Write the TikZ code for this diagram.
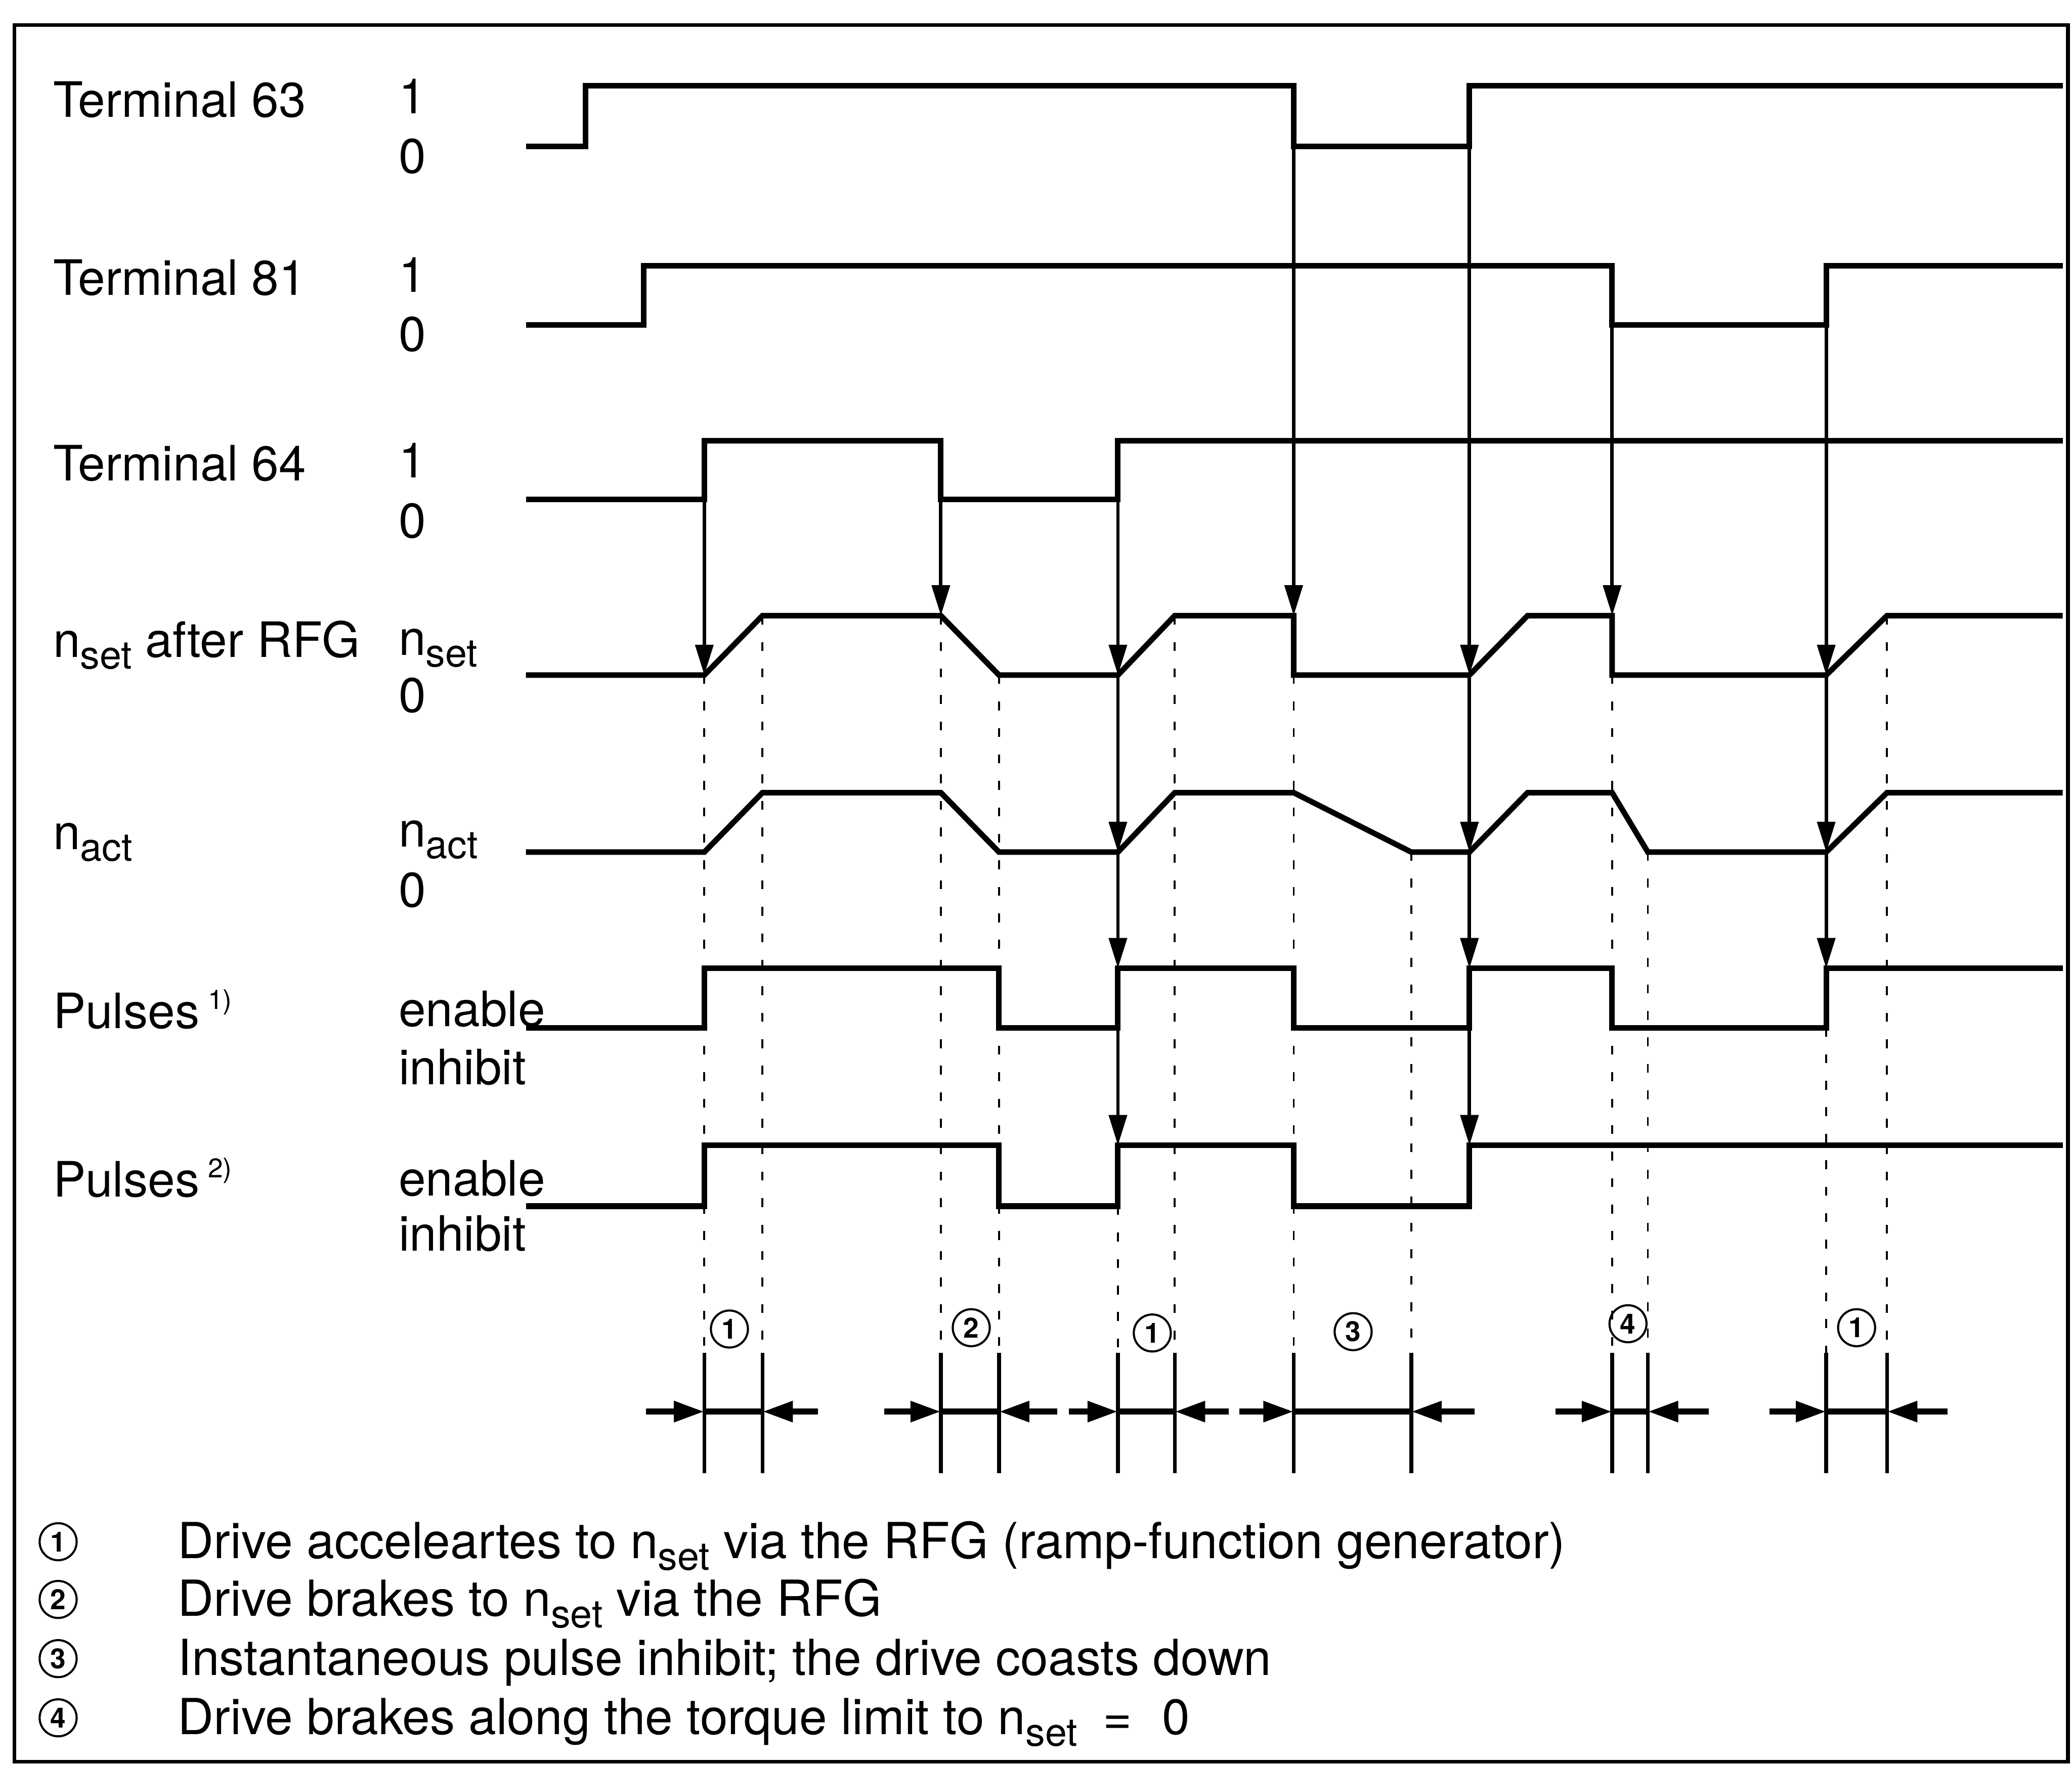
\documentclass[tikz,border=0pt]{standalone}
\usepackage{fontspec}
\setmainfont{TeX Gyre Heros}
\usetikzlibrary{arrows.meta}

\newcommand{\nidx}[1]{n\raisebox{-2.5pt}{\fontsize{8.4}{9}\selectfont #1}}
\newcommand{\fnmark}[1]{\hspace{1.8pt}\raisebox{4.2pt}{\fontsize{5.8}{6}\selectfont #1}}

\begin{document}
\begin{tikzpicture}[
    x=0.01cm, y=-0.01cm,
    wave/.style={line width=1.2pt, line join=miter},
    trig/.style={-{Triangle[length=2.3mm, width=1.35mm]}, line width=0.75pt},
    guide/.style={line width=0.4pt, dash pattern=on 1.9pt off 3.8pt},
    bound/.style={line width=0.8pt},
    span/.style={-{Triangle[length=2.3mm, width=1.5mm]}, line width=1.3pt},
    lbl/.style={anchor=base west, inner sep=0pt, font=\fontsize{10.5}{12.6}\selectfont},
    note/.style={lbl, font=\fontsize{10.7}{12.8}\selectfont},
    cnum/.style={circle, draw, line width=0.45pt, minimum size=2.8mm, inner sep=0pt, font=\fontsize{6}{6}\selectfont\bfseries}
]
\useasboundingbox (0,0) rectangle (1568,1336);

% Frame
\draw[line width=0.8pt] (11,19) rectangle (1565,1333.5);

% Signal names
\node[lbl] (l63) at (39.5,88.8) {Terminal 63};
\node[lbl] (l81) at (39.5,223.5) {Terminal 81};
\node[lbl] (l64) at (39.5,363.7) {Terminal 64};
\node[lbl] (lnset) at (39.5,497.5) {\nidx{set} after RFG};
\node[lbl] (lnact) at (39.5,643) {\nidx{act}};
\node[lbl] (lp1) at (39.5,778.6) {Pulses\fnmark{1)}};
\node[lbl] (lp2) at (39.5,906) {Pulses\fnmark{2)}};

% Levels
\node[lbl] (v63h) at (301,86) {1};
\node[lbl] (v63l) at (301,131) {0};
\node[lbl] (v81h) at (301,221) {1};
\node[lbl] (v81l) at (301,266) {0};
\node[lbl] (v64h) at (301,361.6) {1};
\node[lbl] (v64l) at (301,407) {0};
\node[lbl] (vnsh) at (301,496) {\nidx{set}};
\node[lbl] (vnsl) at (301,539) {0};
\node[lbl] (vnah) at (301,641) {\nidx{act}};
\node[lbl] (vnal) at (301,686.5) {0};
\node[lbl] (vp1h) at (301,777) {enable};
\node[lbl] (vp1l) at (301,821) {inhibit};
\node[lbl] (vp2h) at (301,905) {enable};
\node[lbl] (vp2l) at (301,947) {inhibit};

% Terminal 63
\draw[wave] (398,111) -- (443,111) -- (443,65) -- (979,65) -- (979,111) coordinate (t63a)
    -- (1112,111) coordinate (t63b) -- (1112,65) -- (1561,65);
% Terminal 81
\draw[wave] (398,246) -- (487,246) -- (487,201) -- (1220,201) -- (1220,246) coordinate (t81a)
    -- (1382,246) coordinate (t81b) -- (1382,201) -- (1561,201);
% Terminal 64
\draw[wave] (398,378) -- (533,378) coordinate (t64a) -- (533,333.5) -- (712,333.5)
    -- (712,378) coordinate (t64b) -- (846,378) coordinate (t64c) -- (846,333.5) -- (1561,333.5);
% n_set after RFG
\draw[wave] (398,511) -- (533,511) coordinate (ns1) -- (577,466) -- (712,466) coordinate (ns2)
    -- (756,511) -- (846,511) coordinate (ns3) -- (889,466) -- (979,466) coordinate (ns4)
    -- (979,511) -- (1112,511) coordinate (ns5) -- (1156,466) -- (1220,466) coordinate (ns6)
    -- (1220,511) -- (1382,511) coordinate (ns7) -- (1428,466) -- (1561,466);
% n_act
\draw[wave] (398,645) -- (533,645) -- (577,600) -- (712,600) -- (756,645)
    -- (846,645) coordinate (na3) -- (889,600) -- (979,600) -- (1068,645)
    -- (1112,645) coordinate (na5) -- (1156,600) -- (1220,600) -- (1247,645)
    -- (1382,645) coordinate (na7) -- (1428,600) -- (1561,600);
% Pulses 1)
\draw[wave] (398,778) -- (533,778) -- (533,733) -- (756,733) -- (756,778) -- (846,778)
    -- (846,733) coordinate (p1a) -- (979,733) -- (979,778) -- (1112,778)
    -- (1112,733) coordinate (p1b) -- (1220,733) -- (1220,778) -- (1382,778)
    -- (1382,733) coordinate (p1c) -- (1561,733);
% Pulses 2)
\draw[wave] (398,913) -- (533,913) -- (533,867) -- (756,867) -- (756,913) -- (846,913)
    -- (846,867) coordinate (p2a) -- (979,867) -- (979,913) -- (1112,913)
    -- (1112,867) coordinate (p2b) -- (1561,867);

% Cause and effect
\draw[trig] (t64a) -- (ns1);
\draw[trig] (t64b) -- (ns2);
\draw[trig] (t64c) -- (ns3);
\draw[trig] (ns3) -- (na3);
\draw[trig] (na3) -- (p1a);
\draw[trig] (p1a) -- (p2a);
\draw[trig] (t63a) -- (ns4);
\draw[trig] (t63b) -- (ns5);
\draw[trig] (ns5) -- (na5);
\draw[trig] (na5) -- (p1b);
\draw[trig] (p1b) -- (p2b);
\draw[trig] (t81a) -- (ns6);
\draw[trig] (t81b) -- (ns7);
\draw[trig] (ns7) -- (na7);
\draw[trig] (na7) -- (p1c);

% Guide lines
\foreach \x/\y in {533/511, 577/466, 712/466, 756/511, 846/913, 889/466,
                   979/511, 1068/645, 1220/511, 1247/645, 1382/778, 1428/466}
    \draw[guide] (\x,\y) -- (\x,1024);

% Time spans
\foreach \l/\r/\a/\b/\cx/\cy/\n [count=\i] in {533/577/44/42/552/1006/1,
        712/756/43/44/735/1005/2, 846/889/37/41/872/1009/1, 979/1068/41/48/1024/1008/3,
        1220/1247/43/46/1232/1002/4, 1382/1428/43/46/1405/1005/1}{
    \draw[bound] (\l,1024) -- (\l,1115);
    \draw[bound] (\r,1024) -- (\r,1115);
    \draw[line width=1.3pt] (\l,1068.5) -- (\r,1068.5);
    \draw[span] ({\l-\a},1068.5) -- (\l,1068.5);
    \draw[span] ({\r+\b},1068.5) -- (\r,1068.5);
    \node[cnum] (mk\i) at (\cx,\cy) {\n};
}

% Legend
\foreach \n/\y in {1/1179.5, 2/1223.2, 3/1268, 4/1312.8}
    \node[cnum] (leg\n) at (44,{\y-12.5}) {\n};
\node[note] (txt1) at (134,1179.5) {Drive acceleartes to \nidx{set} via the RFG (ramp-function generator)};
\node[note] (txt2) at (134,1223.2) {Drive brakes to \nidx{set} via the RFG};
\node[note] (txt3) at (134,1268) {Instantaneous pulse inhibit; the drive coasts down};
\node[note] (txt4) at (134,1312.8) {Drive brakes along the torque limit to \nidx{set}\hspace{5.5pt}=\hspace{6.5pt}0};

\end{tikzpicture}
\end{document}
